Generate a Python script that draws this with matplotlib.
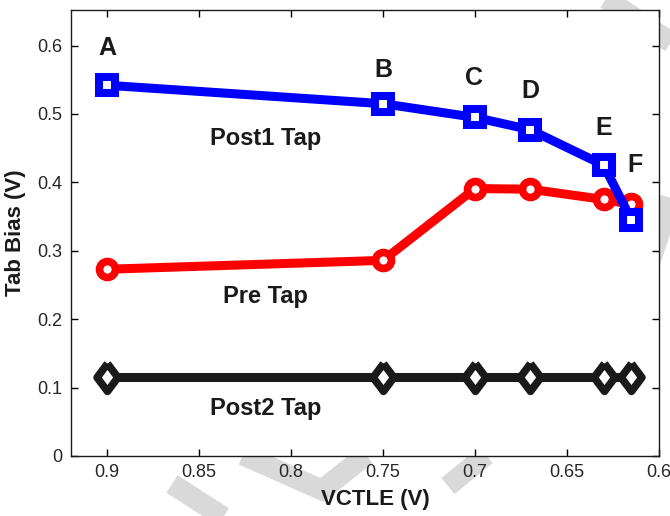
import matplotlib.pyplot as plt

plt.rcParams['font.family'] = ['Liberation Sans', 'DejaVu Sans']

# VCTLE operating points (V), plotted on a reversed axis
vctle = [0.9, 0.75, 0.7, 0.67, 0.63, 0.615]
post1 = [0.542, 0.515, 0.495, 0.477, 0.425, 0.345]
pre = [0.273, 0.286, 0.391, 0.390, 0.375, 0.368]
post2 = [0.115, 0.115, 0.115, 0.115, 0.115, 0.115]

point_names = ['A', 'B', 'C', 'D', 'E', 'F']
name_y = [0.596, 0.565, 0.552, 0.533, 0.480, 0.425]
name_x = [0.9, 0.75, 0.7005, 0.670, 0.630, 0.613]

xticks = [0.9, 0.85, 0.8, 0.75, 0.7, 0.65, 0.6]
xtick_labels = ['0.9', '0.85', '0.8', '0.75', '0.7', '0.65', '0.6']
yticks = [0, 0.1, 0.2, 0.3, 0.4, 0.5, 0.6]
ytick_labels = ['0', '0.1', '0.2', '0.3', '0.4', '0.5', '0.6']

fig = plt.figure(figsize=(6.7, 5.16), dpi=100)

# faint grey watermark strokes, on a background axes behind the plot
W, H = 670.0, 516.0
bg = fig.add_axes([0, 0, 1, 1], zorder=0)
bg.set_xlim(0, W)
bg.set_ylim(H, 0)
bg.axis('off')
strokes = [
    [(600, -5), (675, 45)],
    [(672, 195), (650, 262)],
    [(243, 455), (322, 490), (366, 455)],
    [(172, 484), (228, 520)],
    [(448, 486), (486, 455)],
]
for s in strokes:
    bg.plot([p[0] for p in s], [p[1] for p in s], color='#d9d9d9', lw=15,
            solid_capstyle='butt', solid_joinstyle='miter', clip_on=False)

ax = fig.add_axes([71 / W, 1 - 456 / H, (659 - 71) / W, (456 - 10) / H],
                  zorder=1)
ax.set_facecolor('white')

diamond = [(0, 1), (0.75, 0), (0, -1), (-0.75, 0), (0, 1)]

ax.plot(vctle, post2, color='#1a1a1a', lw=6.5, marker=diamond, ms=20,
        mfc='white', mec='#1a1a1a', mew=5.5, zorder=3)
ax.plot(vctle, pre, color='#ff0000', lw=6.5, marker='o', ms=11.5,
        mfc='white', mec='#ff0000', mew=5.5, zorder=4)
ax.plot(vctle, post1, color='#0000ff', lw=6.5, marker='s', ms=11,
        mfc='white', mec='#0000ff', mew=5.8, zorder=5)

for n, x, y in zip(point_names, name_x, name_y):
    ax.text(x, y, n, ha='center', va='center', fontsize=18,
            fontweight='bold', color='#1a1a1a')

ax.text(0.814, 0.464, 'Post1 Tap', ha='center', va='center', fontsize=17,
        fontweight='bold', color='#1a1a1a')
ax.text(0.814, 0.2336, 'Pre Tap', ha='center', va='center', fontsize=17,
        fontweight='bold', color='#1a1a1a')
ax.text(0.814, 0.070, 'Post2 Tap', ha='center', va='center', fontsize=17,
        fontweight='bold', color='#1a1a1a')

ax.set_xlim(0.9196, 0.6)
ax.set_ylim(0, 0.652)
ax.set_xticks(xticks)
ax.set_xticklabels(xtick_labels)
ax.set_yticks(yticks)
ax.set_yticklabels(ytick_labels)
ax.tick_params(direction='in', length=5, width=1, top=True, right=True,
               labelsize=13, labelcolor='#262626', pad=6)

for sp in ax.spines.values():
    sp.set_linewidth(1)
    sp.set_color('#1a1a1a')

ax.set_xlabel('VCTLE (V)', fontsize=16, fontweight='bold', color='#1a1a1a',
              labelpad=6)
ax.xaxis.set_label_coords((375 - 71) / (659 - 71), -0.075)
ax.set_ylabel('Tab Bias (V)', fontsize=16, fontweight='bold', color='#1a1a1a',
              labelpad=8)

fig.savefig('out.png', dpi=100)
